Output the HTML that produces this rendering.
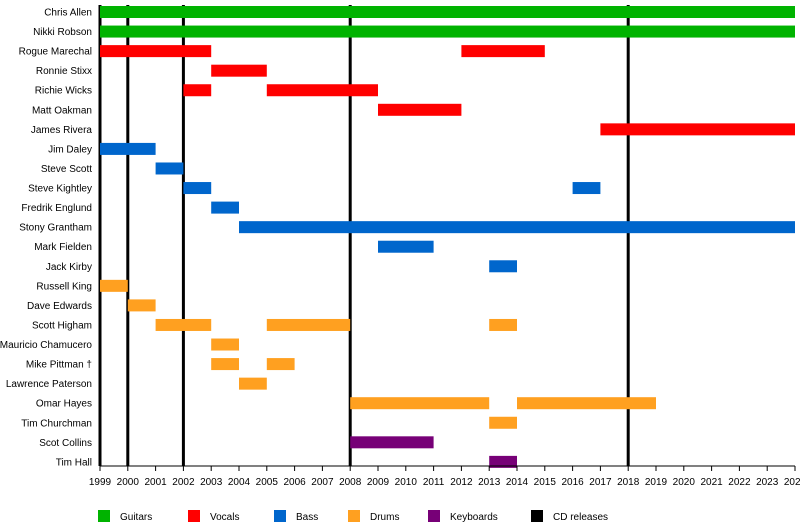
<!DOCTYPE html>
<html><head><meta charset="utf-8"><style>
html,body{margin:0;padding:0;background:#fff;width:800px;height:526px;overflow:hidden}
svg text{font-family:"Liberation Sans",Arial,sans-serif;font-size:10px;fill:#000}
</style></head><body>
<svg id="c" width="800" height="526" xmlns="http://www.w3.org/2000/svg"></svg>
<script>
var s=document.getElementById('c'),h='';
function X(y){return 100+27.8*(y-1999);}
function Y(i){return 12+19.56*i;}
var C={g:'#00b300',r:'#ff0000',b:'#0066cc',o:'#ffa020',p:'#770077'};
var rows=[
['Chris Allen','g',[[1999,2024]]],
['Nikki Robson','g',[[1999,2024]]],
['Rogue Marechal','r',[[1999,2003],[2012,2015]]],
['Ronnie Stixx','r',[[2003,2005]]],
['Richie Wicks','r',[[2002,2003],[2005,2009]]],
['Matt Oakman','r',[[2009,2012]]],
['James Rivera','r',[[2017,2024]]],
['Jim Daley','b',[[1999,2001]]],
['Steve Scott','b',[[2001,2002]]],
['Steve Kightley','b',[[2002,2003],[2016,2017]]],
['Fredrik Englund','b',[[2003,2004]]],
['Stony Grantham','b',[[2004,2024]]],
['Mark Fielden','b',[[2009,2011]]],
['Jack Kirby','b',[[2013,2014]]],
['Russell King','o',[[1999,2000]]],
['Dave Edwards','o',[[2000,2001]]],
['Scott Higham','o',[[2001,2003],[2005,2008],[2013,2014]]],
['Mauricio Chamucero','o',[[2003,2004]]],
['Mike Pittman †','o',[[2003,2004],[2005,2006]]],
['Lawrence Paterson','o',[[2004,2005]]],
['Omar Hayes','o',[[2008,2013],[2014,2019]]],
['Tim Churchman','o',[[2013,2014]]],
['Scot Collins','p',[[2008,2011]]],
['Tim Hall','p',[[2013,2014]]]];
[1999,2000,2002,2008,2018].forEach(function(yr){h+='<rect x="'+(X(yr)-1.5)+'" y="5" width="3" height="461" fill="#000"/>';});
rows.forEach(function(r,i){
 var y=Y(i);
 h+='<text x="92" y="'+(y+3.5)+'" text-anchor="end">'+r[0]+'</text>';
 r[2].forEach(function(p){h+='<rect x="'+X(p[0])+'" y="'+(y-6)+'" width="'+(X(p[1])-X(p[0]))+'" height="12" fill="'+C[r[1]]+'"/>';});
});
h+='<line x1="100" y1="466" x2="795" y2="466" stroke="#000" stroke-width="1"/>';
for(var yr=1999;yr<=2024;yr++){var x=X(yr);h+='<line x1="'+x+'" y1="466" x2="'+x+'" y2="471" stroke="#000"/><text x="'+x+'" y="485" text-anchor="middle">'+yr+'</text>';}
var L=[['g','Guitars',98],['r','Vocals',188],['b','Bass',274],['o','Drums',348],['p','Keyboards',428],['k','CD releases',531]];
L.forEach(function(l){h+='<rect x="'+l[2]+'" y="510" width="12" height="12" fill="'+(l[0]=='k'?'#000':C[l[0]])+'"/><text x="'+(l[2]+22)+'" y="520">'+l[1]+'</text>';});
s.innerHTML=h;
</script>
</body></html>
